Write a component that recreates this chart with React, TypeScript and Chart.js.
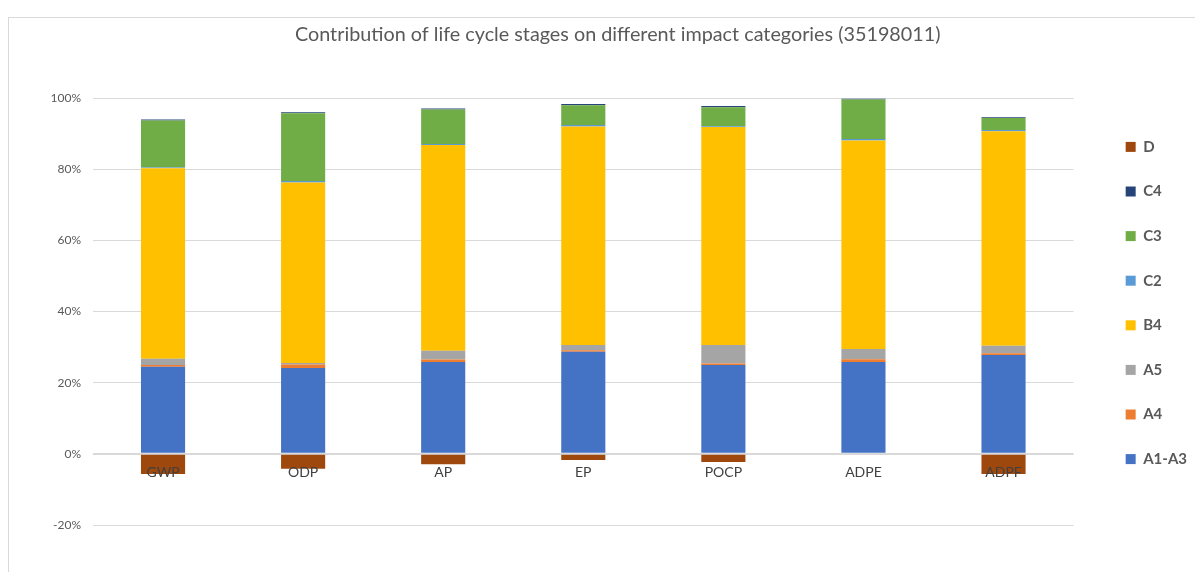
import React, { useEffect, useRef } from 'react';
import { Chart, registerables } from 'chart.js';

Chart.register(...registerables);

const categories = ['GWP', 'ODP', 'AP', 'EP', 'POCP', 'ADPE', 'ADPF'];
const a1a3 = [24.5, 24.1, 25.8, 28.7, 25.0, 25.8, 27.8];
const a4 = [0.5, 1.0, 0.7, 0.4, 0.4, 0.8, 0.5];
const a5 = [1.7, 0.4, 2.5, 1.5, 5.2, 2.9, 2.1];
const b4 = [53.6, 50.8, 57.8, 61.4, 61.3, 58.6, 60.3];
const c2 = [0.2, 0.4, 0.3, 0.4, 0.2, 0.4, 0.3];
const c3 = [13.2, 19.0, 9.7, 5.6, 5.3, 11.1, 3.4];
const c4 = [0.3, 0.3, 0.3, 0.3, 0.4, 0.2, 0.2];
const d = [-5.7, -4.2, -2.9, -1.7, -2.3, 0, -5.7];
const yMin = -20;
const yMax = 100;
const yStep = 20;
const title = 'Contribution of life cycle stages on different impact categories (35198011)';

const FONT = 'Lato, "Open Sans", sans-serif';

export default function App() {
  const ref = useRef<HTMLCanvasElement | null>(null);

  useEffect(() => {
    if (!ref.current) return;
    const series = [
      { label: 'A1-A3', data: a1a3, color: '#4472C4' },
      { label: 'A4', data: a4, color: '#ED7D31' },
      { label: 'A5', data: a5, color: '#A5A5A5' },
      { label: 'B4', data: b4, color: '#FFC000' },
      { label: 'C2', data: c2, color: '#5B9BD5' },
      { label: 'C3', data: c3, color: '#70AD47' },
      { label: 'C4', data: c4, color: '#264478' },
      { label: 'D', data: d, color: '#9E480E' },
    ];
    const chart = new Chart(ref.current, {
      type: 'bar',
      data: {
        labels: categories,
        datasets: series.map((s) => ({
          label: s.label,
          data: s.data,
          backgroundColor: s.color,
          borderColor: s.color,
          borderWidth: 0,
          barPercentage: 0.315,
          categoryPercentage: 1,
        })),
      },
      options: {
        animation: false,
        responsive: true,
        maintainAspectRatio: false,
        layout: { padding: { left: 29.5, right: 6, top: 0, bottom: 47 } },
        plugins: {
          title: {
            display: true,
            text: title,
            color: '#595959',
            font: { family: FONT, size: 19.8, weight: 'normal' },
            padding: { top: 4.3, bottom: 52 },
          },
          legend: {
            position: 'right',
            reverse: true,
            title: {
              display: true,
              text: ' ',
              font: { family: FONT, size: 10 },
              padding: 25.5,
            },
            labels: {
              color: '#595959',
              font: { family: FONT, size: 15, weight: 'bold' },
              boxWidth: 10,
              boxHeight: 10,
              padding: 29.6,
            },
          },
          tooltip: { enabled: false },
        },
        scales: {
          x: {
            stacked: true,
            position: { y: 0 },
            grid: { display: false, drawTicks: false },
            border: { display: false },
            ticks: {
              z: 1,
              color: '#404040',
              font: { family: FONT, size: 14 },
              padding: 10.5,
              maxRotation: 0,
            },
          },
          y: {
            stacked: true,
            min: yMin,
            max: yMax,
            grid: {
              color: '#d9d9d9',
              lineWidth: (ctx: any) => (ctx.tick && ctx.tick.value === 0 ? 2 : 1),
              drawTicks: false,
            },
            border: { display: false },
            ticks: {
              stepSize: yStep,
              color: '#595959',
              font: { family: FONT, size: 12 },
              padding: 12,
              callback: (v: any) => v + '%',
            },
          },
          gap: {
            type: 'linear',
            position: 'right',
            display: true,
            grid: { display: false, drawTicks: false },
            border: { display: false },
            ticks: { display: false },
            afterFit: (s: any) => {
              s.width = 22.5;
            },
          },
        },
      },
    });
    return () => chart.destroy();
  }, []);

  return (
    <div style={{ paddingTop: 9 }}>
      <div
        style={{
          position: 'relative',
          width: 1195,
          height: 555,
          boxSizing: 'border-box',
          borderLeft: '1px solid #d9d9d9',
          borderTop: '1px solid #d9d9d9',
          background: '#fff',
        }}
      >
        <div style={{ position: 'relative', width: 1194, height: 554 }}>
          <canvas ref={ref} />
        </div>
      </div>
    </div>
  );
}
